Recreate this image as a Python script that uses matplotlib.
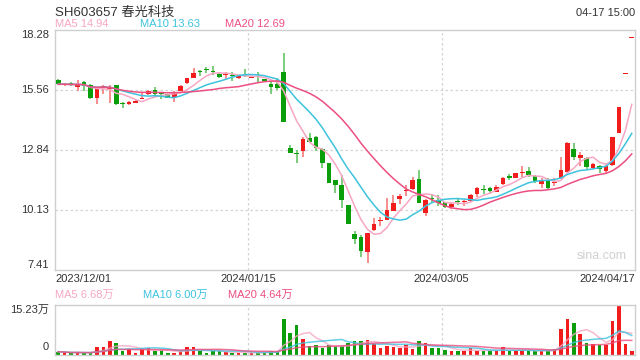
import numpy as np
import pandas as pd
import matplotlib
matplotlib.use('Agg')
import matplotlib.pyplot as plt
import matplotlib.transforms as mtrans

plt.rcParams['font.family'] = ['Liberation Sans', 'Noto Sans CJK SC', 'DejaVu Sans']

# daily prices, 2023/12/01 .. 2024/04/17
opens = [16.02, 15.80, 15.89, 15.68, 15.91, 15.79, 15.19, 15.69, 15.62, 15.79,
         14.98, 14.92, 14.99, 15.17, 15.38, 15.56, 15.39, 15.37, 15.26, 15.52,
         15.87, 16.12, 16.38, 16.48, 16.40, 16.29, 16.23, 16.22, 16.09, 16.21,
         16.11, 16.18, 16.06, 15.82, 15.82, 16.36, 12.92, 12.68, 12.81, 13.37,
         13.45, 12.88, 12.24, 11.49, 11.26, 10.35, 9.04, 8.89, 8.21, 9.22,
         9.64, 9.67, 10.10, 10.63, 10.98, 11.06, 11.52, 10.01, 10.64, 10.58,
         10.48, 10.25, 10.52, 10.47, 10.53, 10.85, 11.07, 11.11, 10.96, 11.29,
         11.68, 11.59, 11.81, 11.89, 11.67, 11.31, 11.44, 11.34, 11.56, 11.86,
         12.88, 12.50, 12.47, 12.05, 12.14, 11.89, 12.17, 13.63, 16.28, 17.91]
closes = [15.82, 15.83, 15.79, 15.83, 15.76, 15.19, 15.59, 15.72, 15.65, 14.92,
          14.95, 15.03, 15.08, 15.20, 15.53, 15.38, 15.37, 15.22, 15.46, 15.76,
          16.09, 16.32, 16.36, 16.46, 16.38, 16.17, 16.25, 16.20, 16.18, 16.19,
          16.13, 16.16, 15.98, 15.68, 15.64, 14.10, 12.70, 12.66, 13.34, 13.22,
          12.92, 12.24, 11.36, 11.26, 10.58, 9.49, 8.81, 8.28, 9.07, 9.49,
          9.67, 10.13, 10.43, 10.76, 11.01, 11.49, 10.43, 10.58, 10.62, 10.43,
          10.25, 10.39, 10.50, 10.49, 10.81, 11.11, 11.05, 11.00, 11.18, 11.59,
          11.56, 11.79, 11.83, 11.71, 11.44, 11.47, 11.11, 11.36, 11.94, 13.15,
          12.54, 12.62, 12.09, 12.20, 11.98, 12.12, 13.45, 14.80, 16.28, 17.91]
highs = [16.05, 15.88, 15.93, 16.02, 15.95, 15.82, 15.65, 15.79, 15.79, 15.80,
         15.03, 15.08, 15.10, 15.46, 15.56, 15.68, 15.49, 15.40, 15.50, 15.78,
         16.11, 16.55, 16.46, 16.62, 16.64, 16.33, 16.37, 16.36, 16.20, 16.50,
         16.15, 16.38, 16.08, 15.95, 16.10, 17.22, 13.07, 12.84, 13.45, 13.60,
         13.50, 12.92, 12.24, 11.49, 11.71, 10.35, 9.19, 9.00, 9.07, 9.77,
         9.82, 10.66, 10.81, 10.87, 11.25, 11.64, 11.94, 10.62, 10.81, 10.81,
         10.50, 10.43, 10.63, 10.58, 10.85, 11.18, 11.25, 11.18, 11.25, 11.64,
         11.76, 11.80, 12.10, 12.08, 11.71, 11.56, 11.56, 11.56, 12.54, 13.22,
         13.15, 12.74, 12.54, 12.24, 12.16, 12.16, 13.45, 14.80, 16.28, 17.91]
lows = [15.80, 15.76, 15.76, 15.53, 15.53, 15.14, 14.92, 15.37, 14.99, 14.88,
        14.74, 14.88, 14.97, 15.16, 15.33, 15.25, 15.16, 15.20, 15.04, 15.50,
        15.85, 16.10, 16.20, 16.32, 16.25, 16.10, 16.05, 15.98, 16.07, 16.13,
        16.09, 15.92, 15.96, 15.40, 15.57, 14.10, 12.70, 12.24, 12.52, 13.15,
        12.81, 12.02, 11.36, 10.88, 10.20, 9.49, 8.59, 8.01, 7.71, 9.19,
        9.40, 9.67, 10.06, 10.42, 10.76, 11.03, 10.43, 9.85, 10.43, 10.30,
        10.20, 10.18, 10.36, 10.33, 10.50, 10.72, 10.85, 10.87, 10.93, 11.27,
        11.49, 11.57, 11.61, 11.64, 11.33, 11.11, 11.08, 11.21, 11.53, 11.86,
        12.40, 12.14, 11.98, 12.00, 11.79, 11.79, 12.10, 13.60, 16.28, 17.91]
# volume in 万 shares
volumes = [1.0, 0.8, 0.5, 0.8, 0.6, 0.7, 2.3, 2.3, 4.4, 3.8,
           1.3, 1.9, 0.7, 1.9, 2.1, 1.1, 1.5, 0.7, 0.7, 1.1,
           2.3, 2.3, 1.3, 0.7, 1.1, 1.1, 0.8, 0.7, 0.7, 0.5,
           0.7, 0.7, 0.9, 1.2, 1.1, 10.9, 6.6, 9.1, 5.0, 2.6,
           2.9, 2.0, 2.9, 2.7, 2.7, 3.6, 4.4, 4.4, 4.7, 3.4,
           2.0, 2.7, 2.3, 2.1, 3.1, 1.8, 4.4, 3.8, 2.1, 2.1,
           1.6, 1.3, 1.3, 1.1, 2.1, 1.3, 1.3, 1.3, 1.1, 2.3,
           1.3, 1.3, 1.3, 1.3, 1.3, 1.3, 1.3, 1.8, 7.8, 10.9,
           9.7, 6.4, 3.8, 3.3, 2.9, 2.9, 10.3, 15.23, 3.3, 1.3]

price_ticks = [7.41, 10.13, 12.84, 15.56, 18.28]
price_tick_labels = ['7.41', '10.13', '12.84', '15.56', '18.28']
date_labels = ['2023/12/01', '2024/01/15', '2024/03/05', '2024/04/17']
price_ma_text = ['MA5 14.94', 'MA10 13.63', 'MA20 12.69']
vol_ma_text = ['MA5 6.68万', 'MA10 6.00万', 'MA20 4.64万']

RED = '#f11c1c'
GREEN = '#0a9f0a'
MA_COLORS = ['#f7a6c4', '#3ec3de', '#ec4f80']
GRID = '#d4d4d4'
TXT = '#333333'

df = pd.DataFrame({'o': opens, 'c': closes, 'h': highs, 'l': lows, 'v': volumes})
x = np.arange(len(df))
up = df.c >= df.o
cols = np.where(up, RED, GREEN)

fig = plt.figure(figsize=(6.4, 3.6), dpi=100)
ax = fig.add_axes([55/640, 1-270/360, 580/640, 240/360])
axv = fig.add_axes([55/640, 5/360, 580/640, 50/360])

for a in (ax, axv):
    a.set_xlim(-0.5, len(df)-0.5)
    a.set_xticks([])
    a.set_yticks([])
    for s in a.spines.values():
        s.set_color('#cfcfcf')
        s.set_linewidth(1)
    # vertical grid at thirds
    for gx in (29.5, 59.5):
        a.axvline(gx, color=GRID, lw=0.9, ls=(0, (2, 2)), zorder=0)

ax.set_ylim(7.41, 18.28)
for t in price_ticks[1:-1]:
    ax.axhline(t, color=GRID, lw=0.9, ls=(0, (2, 2)), zorder=0)

# candles
body_lo = np.minimum(df.o, df.c)
body_h = np.maximum(np.abs(df.c - df.o), 0.045)
wick_cols = np.where(up, '#f77a7a', '#66c466')
ax.vlines(x, df.l, df.h, colors=wick_cols, lw=1.2, zorder=2)
ax.bar(x, body_h, bottom=body_lo, width=0.72, color=cols, zorder=3, linewidth=0)

for n, c in zip((5, 10, 20), MA_COLORS):
    ax.plot(x, df.c.rolling(n, min_periods=1).mean(), color=c, lw=1.1, zorder=4)

# volume
axv.set_ylim(0, 15.23)
axv.bar(x, df.v, width=0.55, color=cols, linewidth=0, zorder=2)
for n, c in zip((5, 10, 20), MA_COLORS):
    axv.plot(x, df.v.rolling(n, min_periods=1).mean(), color=c, lw=1.1, alpha=0.8, zorder=3)

# y labels
ytr = mtrans.blended_transform_factory(ax.transAxes, ax.transData)
for t, lab in zip(price_ticks, price_tick_labels):
    va = 'top' if t == price_ticks[-1] else ('bottom' if t == price_ticks[0] else 'center')
    ax.text(-0.01, t, lab, transform=ytr, ha='right', va=va, fontsize=8, color=TXT)
axv.text(-0.01, 1.0, '15.23万', transform=axv.transAxes, ha='right', va='top', fontsize=8, color=TXT)
axv.text(-0.01, 0.05, '0', transform=axv.transAxes, ha='right', va='bottom', fontsize=8, color=TXT)

# date labels
dtr = mtrans.blended_transform_factory(ax.transData, ax.transAxes)
ax.text(-0.5, -0.015, date_labels[0], transform=dtr, ha='left', va='top', fontsize=8, color=TXT)
ax.text(29.5, -0.015, date_labels[1], transform=dtr, ha='center', va='top', fontsize=8, color=TXT)
ax.text(59.5, -0.015, date_labels[2], transform=dtr, ha='center', va='top', fontsize=8, color=TXT)
ax.text(len(df)-0.5, -0.015, date_labels[3], transform=dtr, ha='right', va='top', fontsize=8, color=TXT)

# header texts
fig.text(55/640, 1-13/360, 'SH603657 春光科技', ha='left', va='center', fontsize=9.5, color=TXT)
fig.text(635/640, 1-13/360, '04-17 15:00', ha='right', va='center', fontsize=8, color=TXT)
for xp, s, c in zip((55, 140, 225), price_ma_text, MA_COLORS):
    fig.text(xp/640, 1-24/360, s, ha='left', va='center', fontsize=8, color=c)
for xp, s, c in zip((55, 143, 228), vol_ma_text, MA_COLORS):
    fig.text(xp/640, 1-295/360, s, ha='left', va='center', fontsize=8, color=c)

ax.text(0.985, 0.06, 'sina.com', transform=ax.transAxes, ha='right', va='center',
        fontsize=9, color='#d0d0d0')

fig.savefig('out.png', dpi=100)
